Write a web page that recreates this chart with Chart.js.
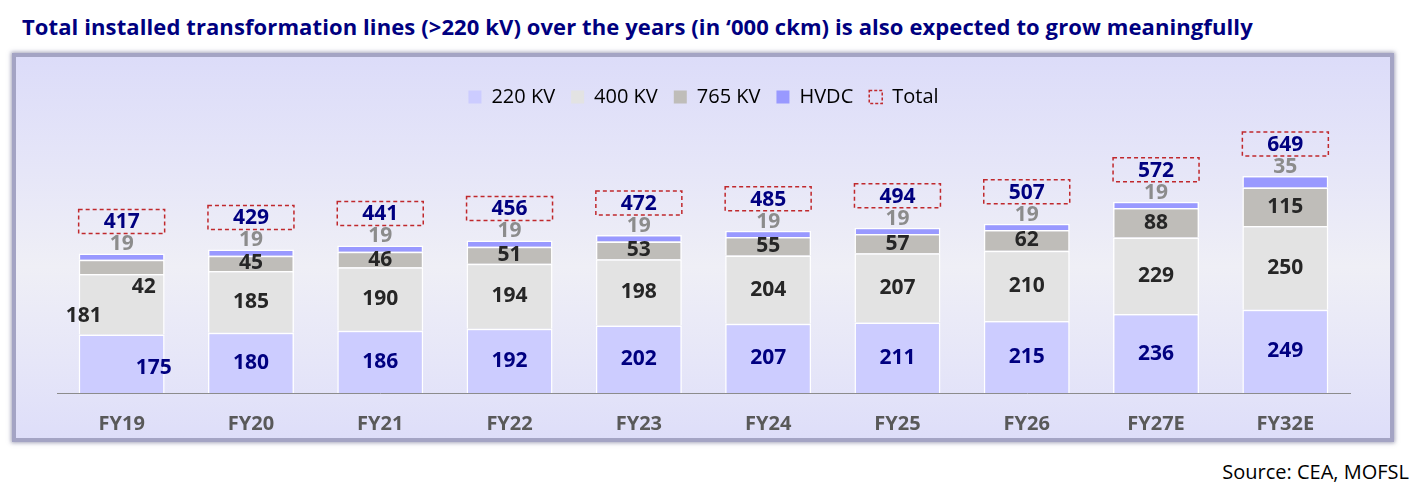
<!DOCTYPE html>
<html>
<head>
<meta charset="utf-8">
<script src="https://cdn.jsdelivr.net/npm/chart.js@4.4.1/dist/chart.umd.min.js"></script>
<style>
	html, body {
		margin: 0;
		padding: 0;
		width: 1424px;
		height: 488px;
		background: #fff;
		overflow: hidden;
	}
	#title {
		position: absolute;
		left: 22px;
		top: 12px;
		font: bold 22px "Open Sans", sans-serif;
		letter-spacing: 0.1px;
		line-height: 28px;
		color: #000080;
		white-space: nowrap;
	}
	#frame {
		position: absolute;
		left: 12px;
		top: 53px;
		width: 1374px;
		height: 381px;
		border: 4px solid #A4A4C4;
		box-shadow: 0 0 4px 1px rgba(90, 90, 130, 0.55);
		background: linear-gradient(180deg, #DCDCF9 0%, #E6E6F8 30%, #EFEFF6 55%, #E6E6F8 80%, #DEDEF9 100%);
	}
	#wrap {
		position: absolute;
		left: 0;
		top: 0;
		width: 1374px;
		height: 381px;
	}
	#source {
		position: absolute;
		right: 15px;
		top: 460px;
		font: 20px "Open Sans", sans-serif;
		line-height: 24px;
		color: #000;
	}
</style>
</head>
<body>
<div id="title">Total installed transformation lines (&gt;220 kV) over the years (in ‘000 ckm) is also expected to grow meaningfully</div>
<div id="frame"><div id="wrap"><canvas id="chart"></canvas></div></div>
<div id="source">Source: CEA, MOFSL</div>
<script>
	const categories = ['FY19', 'FY20', 'FY21', 'FY22', 'FY23', 'FY24', 'FY25', 'FY26', 'FY27E', 'FY32E'];
	const kv220 = [175, 180, 186, 192, 202, 207, 211, 215, 236, 249];
	const kv400 = [181, 185, 190, 194, 198, 204, 207, 210, 229, 250];
	const kv765 = [42, 45, 46, 51, 53, 55, 57, 62, 88, 115];
	const hvdc = [19, 19, 19, 19, 19, 19, 19, 19, 19, 35];
	const total = [417, 429, 441, 456, 472, 485, 494, 507, 572, 649];

	// the FY19 labels sit off-centre in the original
	const labelNudge = {
		0: {0: [32, 4]},
		1: {0: [-38, 12]},
		2: {0: [22, 20]},
	};
	const labelColors = ['#000080', '#262626', '#262626'];
	const labelFont = 'bold 21px "Open Sans", sans-serif';

	const segLabels = {
		id: 'segLabels',
		afterDatasetsDraw(chart) {
			let {ctx} = chart;
			ctx.save();
			ctx.font = labelFont;
			ctx.textAlign = 'center';
			ctx.textBaseline = 'middle';
			[0, 1, 2].forEach(di => {
				let meta = chart.getDatasetMeta(di);
				meta.data.forEach((bar, i) => {
					let off = (labelNudge[di] && labelNudge[di][i]) || [0, 0];
					ctx.fillStyle = labelColors[di];
					ctx.fillText(chart.data.datasets[di].data[i], bar.x + off[0], (bar.y + bar.base) / 2 + off[1]);
				});
			});
			let top = chart.getDatasetMeta(3);
			top.data.forEach((bar, i) => {
				ctx.fillStyle = '#8C8C8C';
				ctx.fillText(hvdc[i], bar.x, bar.y - 9);
				let w = bar.width;
				let by = bar.y - 44;
				ctx.setLineDash([4, 3]);
				ctx.strokeStyle = '#C0282C';
				ctx.lineWidth = 1.5;
				ctx.strokeRect(bar.x - w / 2, by, w, 24);
				ctx.setLineDash([]);
				ctx.fillStyle = '#000080';
				ctx.fillText(total[i], bar.x, by + 13);
			});
			ctx.restore();
		},
	};

	let barSet = (label, data, color) => ({
		label,
		data,
		backgroundColor: color,
		borderColor: '#FFFFFF',
		borderWidth: 1.5,
		stack: 'lines',
		categoryPercentage: 1,
		barPercentage: 0.665,
	});

	new Chart(document.getElementById('chart'), {
		type: 'bar',
		data: {
			labels: categories,
			datasets: [
				barSet('220 KV', kv220, '#CCCCFF'),
				barSet('400 KV', kv400, '#E3E3E3'),
				barSet('765 KV', kv765, '#BFBDB9'),
				barSet('HVDC', hvdc, '#9999FF'),
				{
					type: 'line',
					label: 'Total',
					data: total,
					showLine: false,
					pointRadius: 0,
					pointHoverRadius: 0,
					borderColor: '#C0282C',
					backgroundColor: 'rgba(0,0,0,0)',
					borderDash: [3, 2],
					borderWidth: 1.5,
				},
			],
		},
		options: {
			responsive: true,
			maintainAspectRatio: false,
			animation: false,
			layout: {
				padding: {top: 14, left: 41, right: 40, bottom: -17},
			},
			plugins: {
				tooltip: {enabled: false},
				legend: {
					position: 'top',
					labels: {
						color: '#000',
						font: {family: '"Open Sans", sans-serif', size: 20},
						boxWidth: 13,
						boxHeight: 13,
						padding: 16,
						generateLabels(chart) {
							let items = Chart.defaults.plugins.legend.labels.generateLabels(chart);
							items.forEach(item => {
								if (item.datasetIndex === 4) {
									item.fillStyle = 'rgba(0,0,0,0)';
									item.strokeStyle = '#C0282C';
									item.lineDash = [3, 2];
									item.lineWidth = 1.5;
								} else {
									item.lineWidth = 0;
								}
							});
							return items;
						},
					},
				},
			},
			scales: {
				x: {
					stacked: true,
					grid: {display: false, drawTicks: false},
					border: {display: true, color: '#8C8C8C', width: 1},
					ticks: {
						color: '#595959',
						font: {family: '"Open Sans", sans-serif', size: 20, weight: 'bold'},
						padding: 19,
					},
				},
				y: {
					stacked: true,
					display: false,
					min: 0,
					max: 825,
				},
			},
		},
		plugins: [segLabels],
	});
</script>
</body>
</html>
